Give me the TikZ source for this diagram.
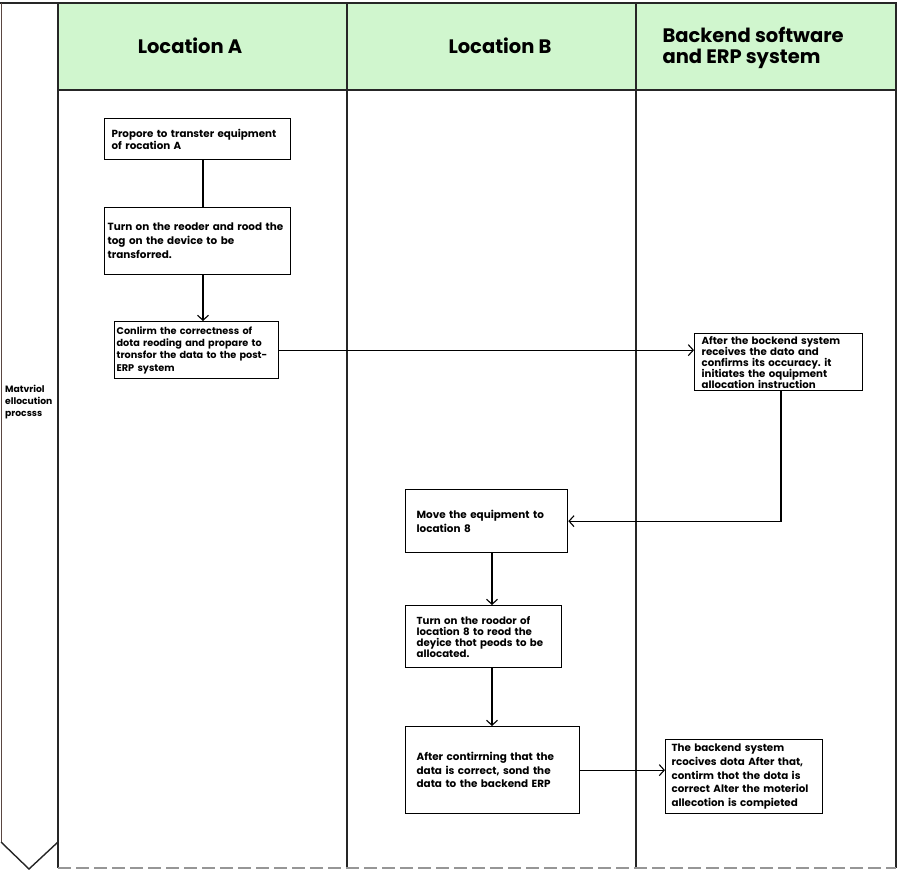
\documentclass[tikz,border=0pt]{standalone}
\usepackage{fontspec}
\setmainfont{Poppins}
\usetikzlibrary{arrows.meta}
\definecolor{headgreen}{RGB}{208,246,206}
\definecolor{dashgray}{RGB}{150,150,150}
\definecolor{edgebrown}{RGB}{90,70,65}
\frenchspacing
\begin{document}
\begin{tikzpicture}[
        x = 1pt, y = -1pt,
        laneline/.style = {line width=1.4pt, black!85},
        lanehead/.style = {font=\bfseries\fontsize{19.5}{21}\selectfont, align=left},
        stepbox/.style = {draw, line width=1.3pt, anchor=north west, align=left,
            inner ysep=0pt, font=\bfseries\fontsize{10.3}{12}\selectfont},
        flow/.style = {-{Straight Barb[length=5pt,width=11pt]}, line width=1.1pt}
    ]
    \useasboundingbox (0,0) rectangle (900,871);
    % lanes
    \fill[headgreen] (58,3) rectangle (896,90);
    \draw[laneline] (0,3) -- (897,3);
    \draw[laneline] (58,90) -- (896,90);
    \foreach \x in {58,347,636,896}
        \draw[laneline] (\x,3) -- (\x,868);
    \draw[line width=0.8pt, edgebrown] (1,3) -- (1,842);
    \draw[laneline] (1,842) -- (29,869) -- (58,842);
    \draw[dashgray, line width=1.2pt, dash pattern=on 13pt off 5pt] (58,868) -- (896,868);
    \node[anchor=north west, align=left, inner xsep=0pt, font=\bfseries\fontsize{9.2}{12}\selectfont]
        (procname) at (5,382) {Matvriol\\ellocution\\procsss};
    \node[lanehead] (headA) at (190,46) {Location A};
    \node[lanehead] (headB) at (500,46) {Location B};
    \node[lanehead, anchor=west] (headERP) at (659,48) {Backend software\\and ERP system};
    % steps
    \coordinate (colA) at (203,0);
    \coordinate (colB) at (492,0);
    \coordinate (colC) at (781,0);
    \node[stepbox, text width=172pt, inner xsep=7pt, minimum height=41pt] (prep) at (104,118)
        {Propore to transter equipment\\of rocation A};
    \node[stepbox, text width=180pt, inner xsep=3pt, minimum height=67pt,
        font=\bfseries\fontsize{10.4}{14}\selectfont] (readA) at (104,207)
        {Turn on the reoder and rood the\\tog on the device to be\\transforred.};
    \node[stepbox, text width=160pt, inner xsep=2pt, minimum height=57pt,
        font=\bfseries\fontsize{9.7}{12.3}\selectfont] (confirmA) at (114,321)
        {Conlirm the correctness of\\dota reoding and propare to\\\makebox[\linewidth][l]{tronsfor the data to the post-}\\ERP system};
    \node[stepbox, text width=154pt, inner xsep=7pt, minimum height=57pt,
        font=\bfseries\fontsize{10.2}{11}\selectfont] (alloc) at (694,333)
        {After the bockend system\\receives the dato and\\confirms its occuracy. it\\initiates the oquipment\\allocation instruction};
    \node[stepbox, text width=140pt, inner xsep=11pt, minimum height=63pt,
        font=\bfseries\fontsize{10.4}{14}\selectfont] (move) at (405,489)
        {Move the equipment to\\location 8};
    \node[stepbox, text width=134pt, inner xsep=11pt, minimum height=62pt,
        font=\bfseries\fontsize{10.2}{11}\selectfont] (readB) at (405,605)
        {Turn on the roodor of\\location 8 to reod the\\deyice thot peods to be\\allocated.};
    \node[stepbox, text width=152pt, inner xsep=11pt, minimum height=87pt,
        font=\bfseries\fontsize{10.4}{13.5}\selectfont] (sendB) at (405,726)
        {After contirrning that the\\data is correct, sond the\\data to the backend ERP};
    \node[stepbox, text width=145pt, inner xsep=6pt, minimum height=74pt,
        font=\bfseries\fontsize{10.3}{13.7}\selectfont] (done) at (665,739)
        {The backend system\\rcocives dota After that,\\contirm thot the dota is\\correct Alter the moteriol\\allecotion is compieted};
    % connectors
    \draw[line width=1.1pt] (prep.south -| colA) -- (readA.north -| colA);
    \draw[flow] (readA.south -| colA) -- (confirmA.north -| colA);
    \draw[flow] (confirmA.east) -- (confirmA.east -| alloc.west);
    \draw[flow] (alloc.south -| colC) |- (move.east);
    \draw[flow] (move.south -| colB) -- (readB.north -| colB);
    \draw[flow] (readB.south -| colB) -- (sendB.north -| colB);
    \draw[flow] (sendB.east) -- (sendB.east -| done.west);
\end{tikzpicture}
\end{document}
